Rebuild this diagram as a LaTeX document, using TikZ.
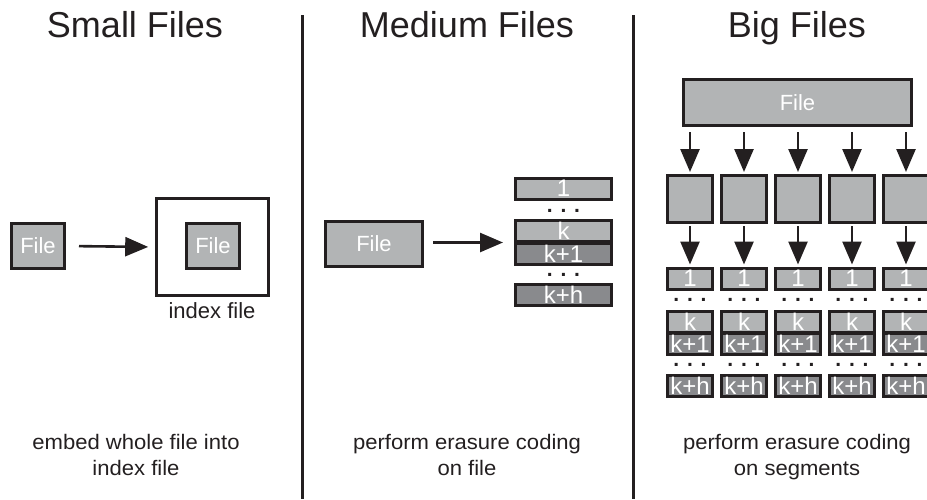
\documentclass[tikz,border=0pt]{standalone}
\usepackage{fontspec}
\setmainfont{Liberation Sans}
\newfontfamily\notefont[FakeStretch=1.05]{Liberation Sans}
\usetikzlibrary{arrows.meta}
\definecolor{boxlight}{RGB}{178,180,181}
\definecolor{boxdark}{RGB}{137,138,141}
\definecolor{linec}{RGB}{35,31,32}
\newcommand{\fsz}[1]{\fontsize{#1}{#1}\selectfont}

\begin{document}
\begin{tikzpicture}[x=1pt,y=-1pt,
	filebox/.style={draw=linec, line width=3pt, fill=boxlight, text=white, inner sep=0pt, font=\fsz{22}},
	seg/.style={filebox, font=\fsz{24}, minimum height=21pt},
	segdark/.style={seg, fill=boxdark},
	arr/.style={draw=linec, line width=2.6pt, -{Triangle[length=23pt,width=19pt]}},
	dots/.style={anchor=base, text=linec, font=\fsz{21}\bfseries, inner sep=0pt},
	title/.style={anchor=base, text=linec, font=\fsz{36}},
	note/.style={anchor=base, align=center, text=linec, font=\notefont\fontsize{21}{26}\selectfont},
	sep/.style={draw=linec, line width=3pt}]
	\clip (0,0) rectangle (927,499);
	% titles and separators
	\node[title] (tsmall) at (135,37) {Small Files};
	\node[title] (tmedium) at (467,37) {Medium Files};
	\node[title] (tbig) at (797,37) {Big Files};
	\draw[sep] (302,15) -- (302,499);
	\draw[sep] (633,15) -- (633,499);
	% small files
	\node[filebox, minimum width=53pt, minimum height=45pt] (sfile) at (38,246) {File};
	\node[draw=linec, line width=2.6pt, fill=white, minimum width=112pt, minimum height=97pt] (sindex) at (212.5,247) {};
	\node[filebox, minimum width=53pt, minimum height=45pt] (sinner) at (213,246) {File};
	\node[anchor=base, text=linec, font=\fsz{22}, inner sep=0pt] (sindexlbl) at (212,318) {index file};
	\draw[arr, shorten <=13pt, shorten >=7pt] (sfile.east) -- (sindex.west);
	\node[note] (nsmall) at (136,475) {embed whole file into\\index file};
	% medium files
	\node[filebox, minimum width=97pt, minimum height=45pt] (mfile) at (374,244) {File};
	\node[seg, minimum width=96pt] (mone) at (563.5,188.5) {1};
	\node[dots] (mdotsa) at (563.5,212) {. . .};
	\node[seg, minimum width=96pt] (mk) at (563.5,230.5) {k};
	\node[segdark, minimum width=96pt] (mkone) at (563.5,254) {k+1};
	\node[dots] (mdotsb) at (563.5,276) {. . .};
	\node[segdark, minimum width=96pt] (mkh) at (563.5,295) {k+h};
	\draw[arr, shorten <=9pt, shorten >=11pt] (mfile.east |- mk.south west) -- (mk.south west);
	\node[note] (nmedium) at (467,475) {perform erasure coding\\on file};
	% big files
	\node[filebox, minimum width=228pt, minimum height=46pt] (bfile) at (797.5,102.5) {File};
	\foreach \i in {1,...,5} {
		\pgfmathsetmacro{\cx}{690+54*(\i-1)}
		\node[filebox, minimum width=45pt, minimum height=47pt] (bsq\i) at (\cx,199) {};
		\node[seg, minimum width=45pt] (bone\i) at (\cx,278.5) {1};
		\node[dots] (bdotsa\i) at (\cx,301) {. . .};
		\node[seg, minimum width=45pt] (bk\i) at (\cx,321.5) {k};
		\node[segdark, minimum width=45pt] (bkone\i) at (\cx,343.5) {k+1};
		\node[dots] (bdotsb\i) at (\cx,366) {. . .};
		\node[segdark, minimum width=45pt] (bkh\i) at (\cx,385.5) {k+h};
		\draw[arr, shorten <=5pt, shorten >=2pt] (bsq\i.north |- bfile.south) -- (bsq\i.north);
		\draw[arr, shorten <=2pt, shorten >=2pt] (bsq\i.south) -- (bone\i.north);
	}
	\node[note] (nbig) at (797,475) {perform erasure coding\\on segments};
\end{tikzpicture}
\end{document}
